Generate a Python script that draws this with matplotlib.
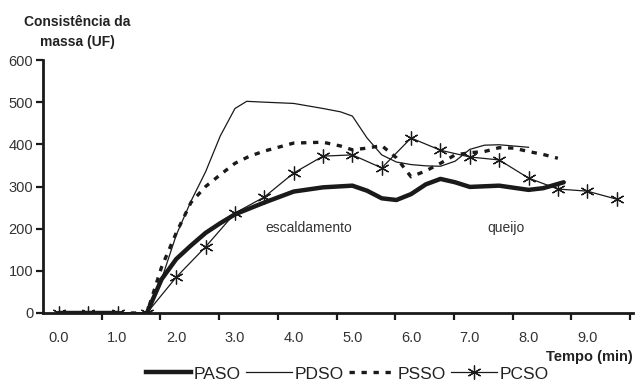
import numpy as np
import matplotlib
matplotlib.use('Agg')
from matplotlib import pyplot as plt
from matplotlib.lines import Line2D

plt.rcParams['font.family'] = ['Liberation Sans', 'DejaVu Sans']

# PASO - thick solid line
paso_x = [0, 0.5, 1.0, 1.25, 1.5, 1.75, 2.0, 2.25, 2.5, 2.75, 3.0, 3.5, 4.0, 4.5, 5.0,
          5.25, 5.5, 5.75, 6.0, 6.25, 6.5, 6.75, 7.0, 7.5, 8.0, 8.25, 8.6]
paso_y = [0, 0, 0, -10, 0, 80, 128, 160, 190, 213, 234, 262, 288, 298, 302,
          290, 272, 268, 282, 305, 318, 310, 299, 302, 292, 296, 310]

# PDSO - thin solid line
pdso_x = [0, 0.5, 1.0, 1.5, 1.75, 2.0, 2.25, 2.5, 2.75, 3.0, 3.2, 3.5, 4.0, 4.5, 4.8,
          5.0, 5.25, 5.5, 5.75, 6.0, 6.25, 6.5, 6.75, 7.0, 7.25, 7.5, 8.0]
pdso_y = [0, 0, 0, 0, 80, 185, 265, 335, 420, 485, 502, 500, 497, 485, 477,
          467, 415, 375, 358, 352, 349, 348, 360, 388, 398, 399, 393]

# PSSO - dashed line
psso_x = [0, 0.5, 1.0, 1.5, 1.75, 2.0, 2.25, 2.5, 2.75, 3.0, 3.25, 3.5, 4.0, 4.5, 4.8,
          5.0, 5.25, 5.5, 5.75, 6.0, 6.25, 6.5, 6.75, 7.0, 7.25, 7.5, 7.75, 8.0, 8.25, 8.5]
psso_y = [0, 0, 0, 0, 109, 190, 262, 300, 328, 355, 372, 384, 403, 405, 396,
          387, 391, 397, 368, 323, 337, 355, 375, 380, 383, 392, 391, 383, 376, 367]

# PCSO - thin line with star markers
pcso_x = [0, 0.5, 1.0, 1.5, 2.0, 2.5, 3.0, 3.5, 4.0, 4.5, 5.0, 5.5, 6.0, 6.5, 7.0,
          7.5, 8.0, 8.5, 9.0, 9.5]
pcso_y = [0, 0, 0, 0, 85, 157, 237, 275, 332, 372, 375, 344, 415, 386, 370,
          363, 320, 294, 289, 270]

xtick_labels = ['0.0', '1.0', '2.0', '3.0', '4.0', '5.0', '6.0', '7.0', '8.0', '9.0']

dark = '#1a1a1a'
txt = '#333333'
dash = (0, (1.6, 2.0))

fig = plt.figure(figsize=(6.35, 3.83), dpi=100)
ax = fig.add_axes([43 / 635, 1 - 313 / 383, 590 / 635, 253 / 383])

star = (6, 2, 0)
ax.plot(paso_x, paso_y, color=dark, lw=3.2, solid_capstyle='round')
ax.plot(pdso_x, pdso_y, color=dark, lw=0.9)
ax.plot(psso_x, psso_y, color=dark, lw=2.4, linestyle=dash)
ax.plot(pcso_x, pcso_y, color=dark, lw=0.9, marker=star, markersize=10,
        markeredgewidth=0.9, markeredgecolor=dark)

ax.set_xlim(-0.27, 9.78)
ax.set_ylim(0, 600)

# labels centred on whole minutes, tick marks offset like the original
ax.set_xticks(np.arange(10))
ax.set_xticklabels(xtick_labels)
ax.set_xticks(np.arange(10) - 0.27 + 1, minor=True)
ax.tick_params(axis='x', which='major', length=0, pad=13, labelsize=10.5, colors=txt)
ax.tick_params(axis='x', which='minor', length=5, width=1.6, direction='out', color=dark)
ax.set_yticks(np.arange(0, 601, 100))
ax.tick_params(axis='y', length=5, width=1.6, direction='out', labelsize=10.5,
               labelcolor=txt, color=dark, pad=2)

for s in ['top', 'right']:
    ax.spines[s].set_visible(False)
for s in ['left', 'bottom']:
    ax.spines[s].set_linewidth(2)
    ax.spines[s].set_color(dark)

ax.text(3.51, 201, 'escaldamento', fontsize=10, color=txt, va='center')
ax.text(7.3, 201, 'queijo', fontsize=10, color=txt, va='center')

fig.text(77 / 635, 1 - 32 / 383, 'Consistência da\nmassa (UF)', ha='center', va='center',
         fontsize=10, fontweight='bold', color='#222222', linespacing=1.5)
fig.text(633 / 635, 1 - 357 / 383, 'Tempo (min)', ha='right', va='center',
         fontsize=10.5, fontweight='bold', color='#222222')

handles = [
    Line2D([], [], color=dark, lw=3.2),
    Line2D([], [], color=dark, lw=0.9),
    Line2D([], [], color=dark, lw=2.4, linestyle=dash),
    Line2D([], [], color=dark, lw=0.9, marker=star, markersize=10, markeredgewidth=0.9),
]
fig.legend(handles, ['PASO', 'PDSO', 'PSSO', 'PCSO'], loc='center',
           bbox_to_anchor=(347 / 635, 1 - 374 / 383), ncol=4, frameon=False,
           fontsize=12.5, handlelength=2.6, handletextpad=0.15, columnspacing=0.35,
           labelcolor='#222222')

fig.savefig('out.png', dpi=100)
